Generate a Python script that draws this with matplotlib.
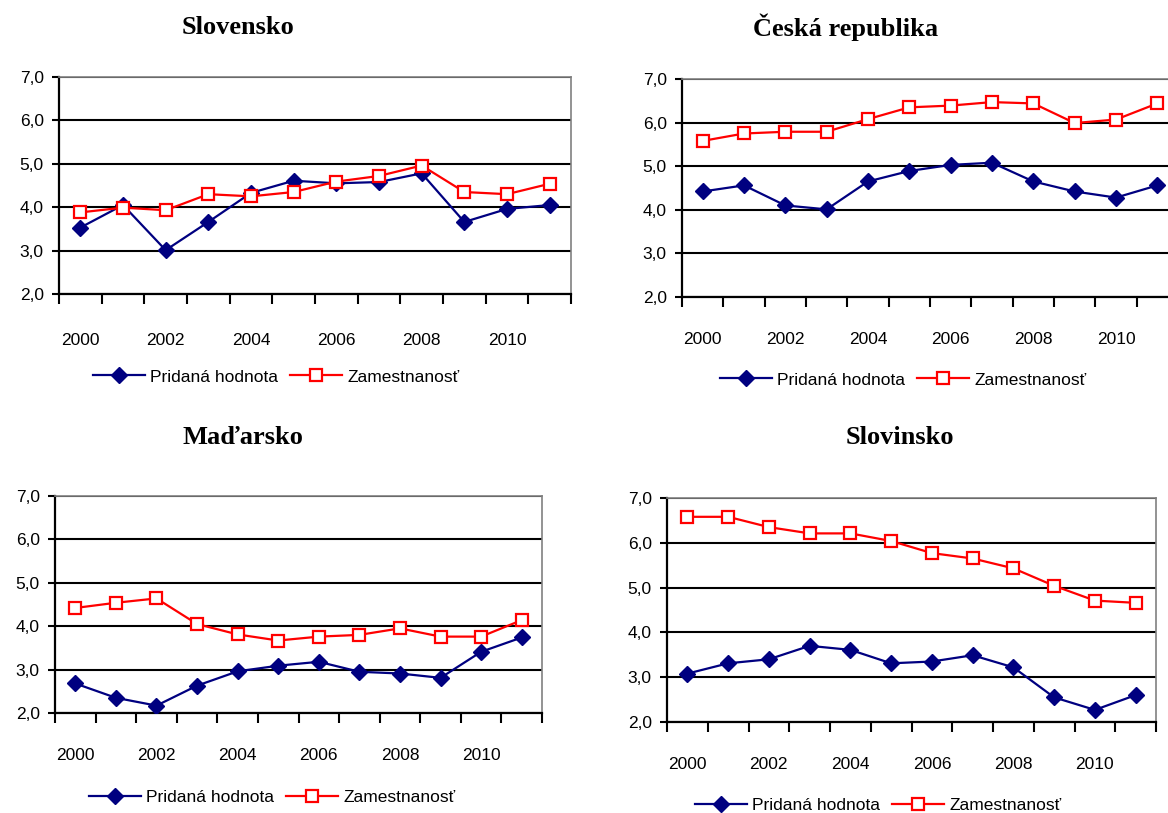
import matplotlib.pyplot as plt

years = list(range(2000, 2012))
year_labels = ["2000", "2002", "2004", "2006", "2008", "2010"]
y_ticks = [2, 3, 4, 5, 6, 7]
y_labels = ["2,0", "3,0", "4,0", "5,0", "6,0", "7,0"]

titles = ["Slovensko", "Česká republika", "Maďarsko", "Slovinsko"]
series_names = ["Pridaná hodnota", "Zamestnanosť"]

# Pridaná hodnota (blue) / Zamestnanosť (red)
sk_pridana = [3.53, 4.05, 3.01, 3.66, 4.33, 4.61, 4.55, 4.58, 4.78, 3.66, 3.96, 4.05]
sk_zamest = [3.88, 3.99, 3.93, 4.30, 4.25, 4.35, 4.59, 4.72, 4.96, 4.35, 4.30, 4.54]

cz_pridana = [4.42, 4.56, 4.10, 4.01, 4.65, 4.89, 5.03, 5.08, 4.65, 4.42, 4.28, 4.56]
cz_zamest = [5.58, 5.75, 5.79, 5.79, 6.08, 6.35, 6.39, 6.47, 6.44, 5.99, 6.07, 6.44]

hu_pridana = [2.68, 2.35, 2.17, 2.63, 2.96, 3.09, 3.18, 2.95, 2.91, 2.81, 3.41, 3.74]
hu_zamest = [4.42, 4.54, 4.64, 4.05, 3.81, 3.67, 3.76, 3.80, 3.95, 3.76, 3.76, 4.14]

si_pridana = [3.08, 3.31, 3.40, 3.70, 3.61, 3.31, 3.35, 3.49, 3.22, 2.55, 2.27, 2.60]
si_zamest = [6.58, 6.58, 6.35, 6.21, 6.21, 6.04, 5.77, 5.65, 5.43, 5.04, 4.71, 4.66]

W, H = 1168, 813
fig = plt.figure(figsize=(W / 100, H / 100), dpi=100)
plt.rcParams['font.family'] = ['Liberation Sans', 'DejaVu Sans']


def px_axes(left, right, top, bottom):
    return fig.add_axes([left / W, 1 - bottom / H, (right - left) / W, (bottom - top) / H])


# panel boxes (left, right, top, bottom), title pos, legend pos, label pad
panels = [
    dict(box=(59, 571, 77, 294), title=(238, 27), leg=(276, 377), pad=28,
         data=(sk_pridana, sk_zamest)),
    dict(box=(682, 1178, 79, 297), title=(846, 27), leg=(903, 380), pad=25,
         data=(cz_pridana, cz_zamest)),
    dict(box=(55, 542, 496, 713), title=(243, 437), leg=(272, 797), pad=25,
         data=(hu_pridana, hu_zamest)),
    dict(box=(667, 1156, 498, 722), title=(900, 437), leg=(878, 805), pad=25,
         data=(si_pridana, si_zamest)),
]

for p, title in zip(panels, titles):
    ax = px_axes(*p["box"])
    x = list(range(len(years)))
    blue, red = p["data"]
    ax.plot(x, blue, color="#000080", lw=1.6, marker="D", ms=8,
            mfc="#000080", mec="#000080", label=series_names[0], zorder=3)
    ax.plot(x, red, color="#FF0000", lw=1.6, marker="s", ms=8,
            mfc="white", mec="#FF0000", mew=1.6, label=series_names[1], zorder=3)

    ax.set_xlim(-0.5, 11.5)
    ax.set_ylim(2, 7)
    ax.set_yticks(y_ticks)
    ax.set_yticklabels(y_labels, fontsize=12.5)
    ax.yaxis.grid(True, color="black", lw=1.5)
    ax.set_axisbelow(True)

    ax.set_xticks([i - 0.5 for i in range(13)])
    ax.set_xticklabels([])
    ax.set_xticks(x[::2], minor=True)
    ax.set_xticklabels(year_labels, minor=True, fontsize=12.5)
    ax.tick_params(axis="x", which="major", direction="out", length=7, width=1.5)
    ax.tick_params(axis="x", which="minor", length=0, pad=p["pad"])
    ax.tick_params(axis="y", direction="out", length=5, width=1.5, pad=6)

    for s in ["left", "bottom"]:
        ax.spines[s].set_color("black")
        ax.spines[s].set_linewidth(1.6)
    for s in ["top", "right"]:
        ax.spines[s].set_color("#808080")
        ax.spines[s].set_linewidth(1.2)

    tx, ty = p["title"]
    fig.text(tx / W, 1 - ty / H, title, ha="center", va="center",
             fontsize=19, fontweight="bold", family="Liberation Serif")

    lx, ly = p["leg"]
    fig.legend(*ax.get_legend_handles_labels(), loc="center",
               bbox_to_anchor=(lx / W, 1 - ly / H), ncol=2, frameon=False,
               fontsize=12.5, handlelength=3.0, handletextpad=0.3,
               columnspacing=0.7, numpoints=1, borderpad=0)

fig.savefig("out.png", dpi=100)
